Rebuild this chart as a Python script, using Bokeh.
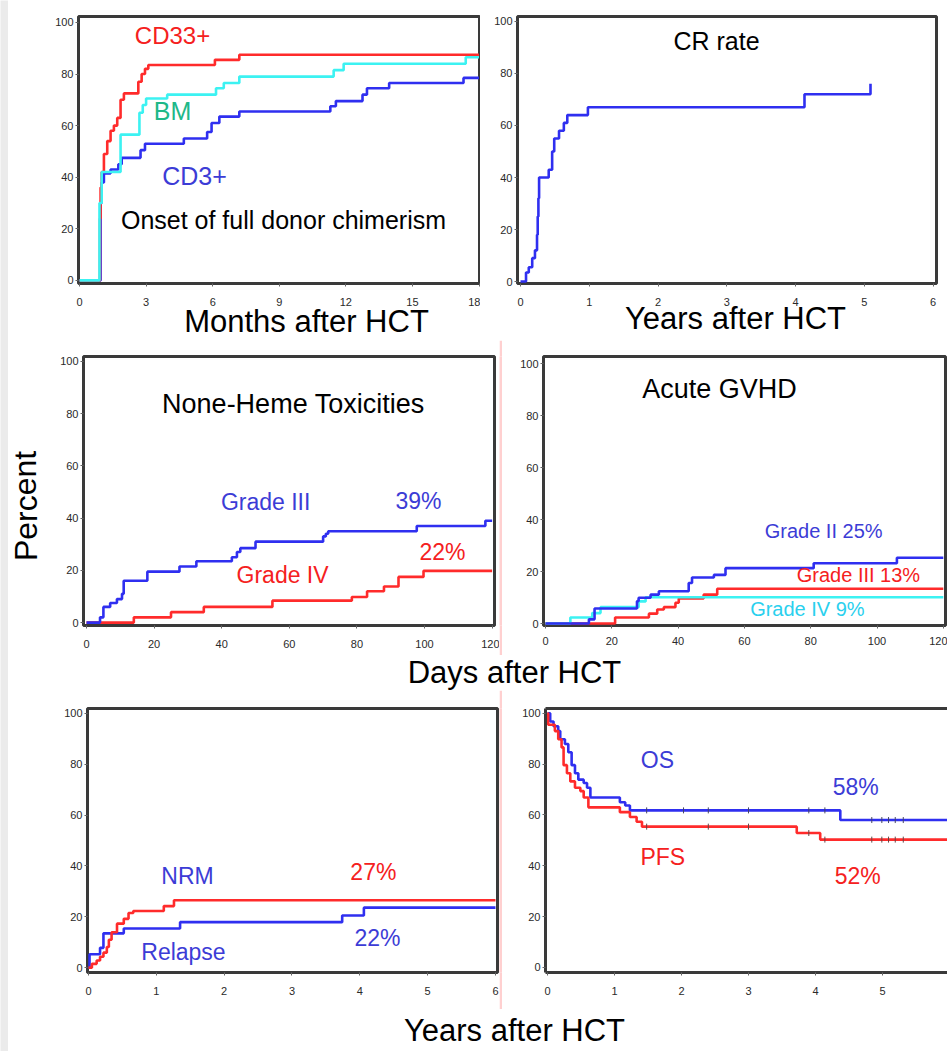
from bokeh.plotting import figure
from bokeh.layouts import row, column
from bokeh.models import Label, LinearAxis, Range1d, FixedTicker
from bokeh.embed import file_html
from bokeh.resources import INLINE

FONT = "Liberation Sans"
BLUE = "#2f2ff0"
RED = "#ff2b2b"
CYAN = "#3cf2f2"
TBLUE = "#3c3cd6"
TRED = "#f52020"
TCYAN = "#2ad0ee"
TGREEN = "#20b888"

# ---------------- data ----------------
# Onset of full donor chimerism (months)
cd33_t = [0, 0.92, 0.95, 1.0, 1.1, 1.25, 1.4, 1.55, 1.7, 1.85, 2.0, 2.65, 2.8, 2.95, 3.1, 6.1, 7.2, 18]
cd33_v = [0, 24, 36, 42, 49, 54, 58, 60, 63, 70, 72.5, 77, 80, 82, 83.5, 85.5, 87.5, 87.5]
bm_t = [0, 0.9, 1.0, 1.85, 2.7, 2.85, 3.0, 3.95, 6.15, 6.5, 7.2, 11.45, 11.9, 17.4, 18]
bm_v = [0, 30, 42, 56.5, 65, 68, 70.5, 72, 74.5, 76.5, 79, 81.5, 84, 86.5, 86.5]
cd3_t = [0, 0.95, 1.0, 1.1, 1.4, 1.75, 1.9, 2.75, 2.95, 4.7, 5.75, 5.95, 6.3, 7.2, 11.3, 11.55, 12.75, 12.95, 13.95, 17.3, 18]
cd3_v = [0, 30, 38, 41.5, 43, 45, 47.5, 50.5, 53, 55, 57.5, 61, 63.5, 65.5, 67.5, 69.5, 72, 74.5, 76.5, 78.5, 78.5]

# CR rate (years)
cr_t = [0, 0.08, 0.12, 0.17, 0.21, 0.24, 0.25, 0.26, 0.27, 0.41, 0.46, 0.49, 0.56, 0.63, 0.68, 0.98, 4.13, 5.09]
cr_v = [0, 3.5, 5.5, 9, 12, 18, 25, 32, 40, 43, 50, 55, 58, 61, 64, 67, 72, 76]

# Non-heme toxicities (days)
tox3_t = [0, 4, 5, 7, 9, 10.5, 11, 18, 27.5, 32.5, 43, 44.5, 45.5, 50, 70, 70.8, 71.5, 97.7, 118, 120]
tox3_v = [0, 2, 6, 7.5, 9, 11, 16, 19.5, 21.5, 23.5, 25, 27, 28.5, 31, 33, 34, 35, 37, 39, 39]
tox4_t = [0, 14, 25, 34.7, 55, 78.5, 83, 88, 92.3, 99.7, 120]
tox4_v = [0, 2, 4, 6, 8.4, 9.8, 12, 13.8, 17.5, 19.8, 19.8]

# Acute GVHD (days)
gv2_t = [0, 13.1, 14.8, 27.6, 28.1, 31.7, 34.2, 43.2, 44.2, 50.8, 54.3, 80.9, 106, 120]
gv2_v = [0, 1.6, 5.8, 8.6, 9.9, 11.1, 12.4, 15.6, 17.7, 18.7, 21.3, 23.2, 25.3, 25.3]
gv3_t = [0, 21, 31.2, 33.7, 35.7, 39.2, 40.2, 47.7, 51.8, 120]
gv3_v = [0, 2.3, 3.8, 5.4, 6.3, 8, 9.6, 11.1, 13.4, 13.4]
gv4_t = [0, 7.5, 14.1, 16.6, 28.1, 30.2, 120]
gv4_v = [0, 2.3, 4, 6.3, 8.5, 10.1, 10.1]

# NRM / relapse (years)
nrm_t = [0, 0.05, 0.12, 0.17, 0.22, 0.27, 0.3, 0.34, 0.42, 0.52, 0.59, 0.66, 1.11, 1.26, 6]
nrm_v = [0, 1.5, 2.8, 4.3, 5.9, 8.1, 11, 13.9, 17.3, 19.2, 21.5, 22.3, 24.2, 26.5, 26.5]
rel_t = [0, 0.015, 0.17, 0.22, 0.52, 1.35, 3.74, 4.06, 6]
rel_v = [0, 5.3, 7.8, 13.5, 15.4, 17.9, 20.5, 23.6, 23.6]

# OS / PFS (years)
os_t = [0, 0.04, 0.09, 0.16, 0.19, 0.26, 0.31, 0.36, 0.41, 0.46, 0.54, 0.59, 0.64, 1.08, 1.16, 1.23, 4.37, 6]
os_v = [100, 96.8, 94.9, 93, 89.8, 87.9, 84.7, 79.6, 76.4, 73.9, 72.6, 70.7, 66.9, 65, 63.7, 61.8, 58, 58]
pfs_t = [0, 0.01, 0.11, 0.16, 0.21, 0.24, 0.29, 0.34, 0.41, 0.49, 0.54, 0.61, 1.08, 1.23, 1.33, 1.41, 3.72, 4.07, 6]
pfs_v = [100, 95.5, 93, 89.8, 86.6, 79.6, 76.4, 73.2, 70.7, 69.4, 66.9, 63, 61.1, 59.2, 57.3, 55.4, 52.9, 50.3, 50.3]
os_cens_t = [1.48, 2.03, 2.4, 3.0, 3.9, 4.14, 4.84, 4.99, 5.09, 5.19, 5.31]
os_cens_v = [61.8, 61.8, 61.8, 61.8, 61.8, 61.8, 58, 58, 58, 58, 58]
pfs_cens_t = [1.48, 2.4, 3.0, 3.9, 4.14, 4.84, 4.99, 5.09, 5.19, 5.31]
pfs_cens_v = [55.4, 55.4, 55.4, 52.9, 50.3, 50.3, 50.3, 50.3, 50.3, 50.3]

pct_ticks = [0, 20, 40, 60, 80, 100]
month_ticks = [0, 3, 6, 9, 12, 15, 18]
year_ticks = [0, 1, 2, 3, 4, 5, 6]
day_ticks = [0, 20, 40, 60, 80, 100, 120]


def panel(w, h, bl, bt, fw, fh, xr, yr, xticks, outline=True, xstand=11):
    p = figure(width=w, height=h, x_range=Range1d(*xr), y_range=Range1d(*yr),
               output_backend="svg", toolbar_location=None,
               min_border_left=bl, min_border_top=bt,
               min_border_right=w - bl - fw, min_border_bottom=h - bt - fh)
    p.grid.visible = False
    p.background_fill_color = "white"
    p.border_fill_color = "white"
    p.outline_line_color = "#3a3a3a" if outline else None
    p.outline_line_width = 3
    p.xaxis.ticker = FixedTicker(ticks=xticks)
    p.yaxis.ticker = FixedTicker(ticks=pct_ticks)
    p.axis.axis_line_color = None
    p.axis.minor_tick_line_color = None
    p.axis.major_tick_in = 0
    p.axis.major_tick_out = 3
    p.axis.major_tick_line_color = "#666666"
    p.axis.major_label_text_font = FONT
    p.axis.major_label_text_font_size = "11px"
    p.axis.major_label_text_color = "#2a2a2a"
    p.xaxis.major_label_standoff = xstand
    p.yaxis.major_label_standoff = 2
    return p


def txt(p, x, y, s, color, size, angle=0.0):
    p.add_layout(Label(x=x, y=y, text=s, text_color=color, text_font=FONT,
                       text_font_size=f"{size}px", text_align="center",
                       text_baseline="middle", angle=angle))


def blank(w, h, color="white"):
    f = figure(width=w, height=h, x_range=Range1d(0, w), y_range=Range1d(0, h),
               x_axis_type=None, y_axis_type=None, output_backend="svg",
               toolbar_location=None, min_border=0)
    f.outline_line_color = None
    f.background_fill_color = color
    f.border_fill_color = color
    f.grid.visible = False
    return f


LW = 2.6

# ---- top left ----
tl = panel(472, 311, 70, 16, 401, 268, (-0.045, 18.02), (-1.2, 102.3), month_ticks)
tl.step(cd3_t, cd3_v, mode="after", line_color=BLUE, line_width=LW)
tl.step(cd33_t, cd33_v, mode="after", line_color=RED, line_width=LW)
tl.step(bm_t, bm_v, mode="after", line_color=CYAN, line_width=LW)
txt(tl, 4.19, 95.0, "CD33+", TRED, 24)
txt(tl, 4.19, 65.6, "BM", TGREEN, 25)
txt(tl, 5.18, 40.5, "CD3+", TBLUE, 25)
txt(tl, 9.19, 23.6, "Onset of full donor chimerism", "black", 25)

# ---- top right ----
tr = panel(467, 311, 37, 8, 419, 275, (-0.044, 6.05), (-0.75, 101.9), year_ticks)
tr.step(cr_t, cr_v, mode="after", line_color=BLUE, line_width=LW)
txt(tr, 2.85, 92.5, "CR rate", "black", 25)

# transparent title strip that slightly overlaps the tick-label area above it
top_titles = blank(939, 42)
top_titles.background_fill_alpha = 0
top_titles.border_fill_alpha = 0
top_titles.margin = (-13, 0, 0, 0)
txt(top_titles, 298, 19, "Months after HCT", "black", 31)
txt(top_titles, 727, 22, "Years after HCT", "black", 31)

# ---- middle left ----
pct_fig = blank(40, 315)
txt(pct_fig, 17, 140, "Percent", "black", 32, angle=1.5708)

ml = panel(451, 315, 35, 10, 411, 275, (-0.89, 120.7), (-1.12, 101.9), day_ticks)
ml.step(tox4_t, tox4_v, mode="after", line_color=RED, line_width=LW)
ml.step(tox3_t, tox3_v, mode="after", line_color=BLUE, line_width=LW)
txt(ml, 61.2, 83.9, "None-Heme Toxicities", "black", 27)
txt(ml, 53.0, 46.1, "Grade III", TBLUE, 23)
txt(ml, 98.2, 46.4, "39%", TBLUE, 23)
txt(ml, 105.3, 27.0, "22%", TRED, 23)
txt(ml, 58.0, 18.4, "Grade IV", TRED, 23)

# ---- middle right ----
mr = panel(445, 315, 41, 16, 402, 272, (-0.6, 120.66), (-0.76, 102.7), day_ticks, xstand=8)
mr.step(gv3_t, gv3_v, mode="after", line_color=RED, line_width=LW)
mr.step(gv4_t, gv4_v, mode="after", line_color=CYAN, line_width=LW)
mr.step(gv2_t, gv2_v, mode="after", line_color=BLUE, line_width=LW)
txt(mr, 52.5, 90.1, "Acute GVHD", "black", 27)
txt(mr, 83.9, 35.4, "Grade II 25%", TBLUE, 20)
txt(mr, 94.4, 18.6, "Grade III 13%", TRED, 20)
txt(mr, 79.0, 5.7, "Grade IV 9%", TCYAN, 20)

days_fig = blank(939, 35)
txt(days_fig, 506, 18, "Days after HCT", "black", 31)

# ---- bottom left ----
bl = panel(491, 319, 79, 18, 410, 274, (-0.015, 6.03), (-1.9, 101.9), year_ticks)
bl.step(rel_t, rel_v, mode="after", line_color=BLUE, line_width=LW)
bl.step(nrm_t, nrm_v, mode="after", line_color=RED, line_width=LW)
txt(bl, 1.46, 36.0, "NRM", TBLUE, 23)
txt(bl, 4.2, 37.5, "27%", TRED, 23)
txt(bl, 4.26, 11.7, "22%", TBLUE, 23)
txt(bl, 1.4, 6.1, "Relapse", TBLUE, 23)

# ---- bottom right ----
br = panel(445, 319, 43, 10, 402, 272, (-0.03, 5.97), (-2.0, 101.9), year_ticks, outline=False)
for ax in (br.xaxis[0], br.yaxis[0]):
    ax.axis_line_color = "#3a3a3a"
    ax.axis_line_width = 3
top_ax = LinearAxis(ticker=FixedTicker(ticks=[]), axis_line_color="#3a3a3a", axis_line_width=3,
                    major_tick_line_color=None, minor_tick_line_color=None,
                    major_label_text_font_size="0px")
br.add_layout(top_ax, "above")
br.step(os_t, os_v, mode="after", line_color=BLUE, line_width=LW)
br.step(pfs_t, pfs_v, mode="after", line_color=RED, line_width=LW)
br.scatter(os_cens_t, os_cens_v, marker="dash", angle=1.5708, size=6, line_color="#444466", line_width=1)
br.scatter(pfs_cens_t, pfs_cens_v, marker="dash", angle=1.5708, size=6, line_color="#664444", line_width=1)
txt(br, 1.64, 81.7, "OS", TBLUE, 23)
txt(br, 4.6, 71.0, "58%", TBLUE, 23)
txt(br, 1.72, 43.4, "PFS", TRED, 23)
txt(br, 4.63, 35.8, "52%", TRED, 23)

years_fig = blank(939, 42)
txt(years_fig, 506, 21, "Years after HCT", "black", 31)

gray = blank(8, 1051, "#ebebeb")
pink1 = blank(3, 315, "#ffd0d0")
pink2 = blank(3, 319, "#ffd0d0")

layout = row(gray, column(row(tl, tr), top_titles, row(pct_fig, ml, pink1, mr), days_fig,
                          row(bl, pink2, br), years_fig))

open("out.html", "w").write(file_html(layout, INLINE))
